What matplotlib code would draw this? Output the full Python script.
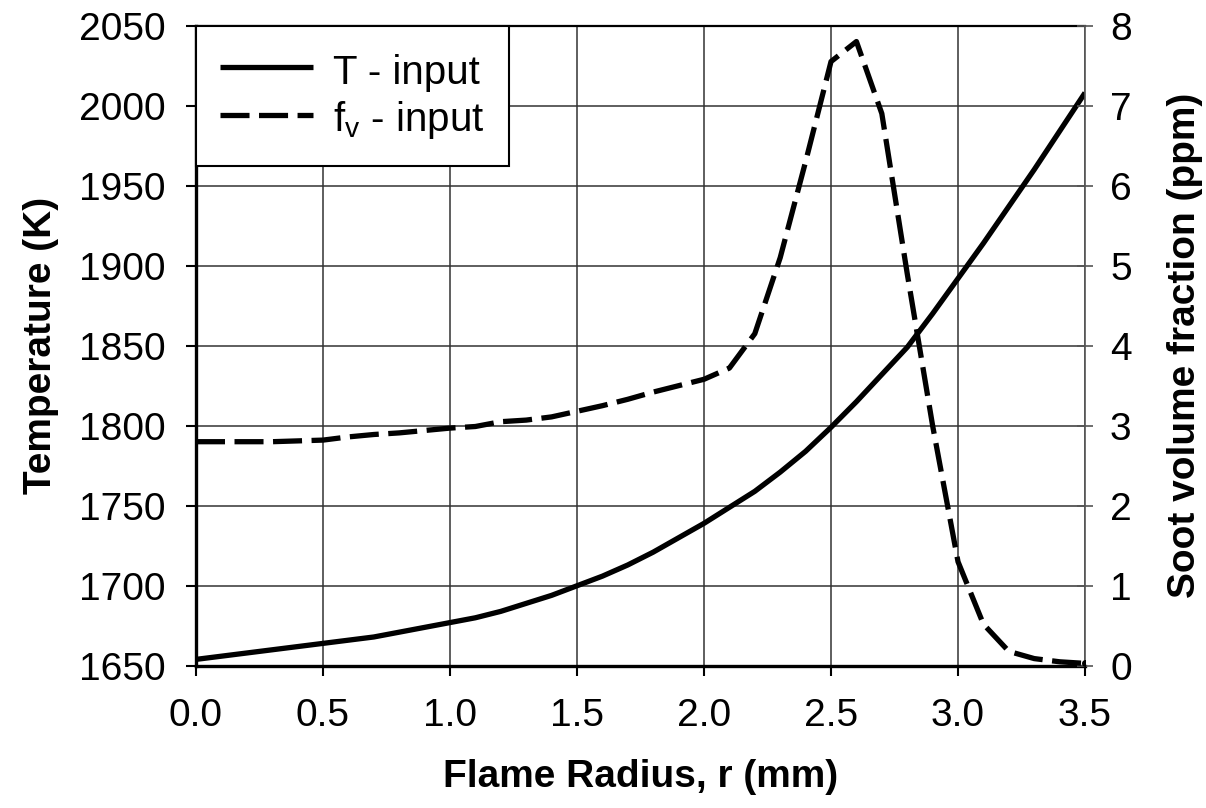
import matplotlib
matplotlib.use("Agg")
import matplotlib.pyplot as plt

plt.rcParams['font.family'] = ['Liberation Sans', 'DejaVu Sans']

r_mm = [0.0, 0.1, 0.2, 0.3, 0.4, 0.5, 0.6, 0.7, 0.8, 0.9, 1.0, 1.1, 1.2, 1.3, 1.4, 1.5,
        1.6, 1.7, 1.8, 1.9, 2.0, 2.1, 2.2, 2.3, 2.4, 2.5, 2.6, 2.7, 2.8, 2.9, 3.0, 3.1,
        3.2, 3.3, 3.4, 3.5]
temperature_K = [1654, 1656, 1658, 1660, 1662, 1664, 1666, 1668, 1671, 1674, 1677, 1680,
                 1684, 1689, 1694, 1700, 1706, 1713, 1721, 1730, 1739, 1749, 1759, 1771,
                 1784, 1799, 1815, 1832, 1849, 1870, 1892, 1914, 1937, 1960, 1984, 2008]
soot_ppm = [2.80, 2.80, 2.80, 2.80, 2.81, 2.82, 2.86, 2.89, 2.91, 2.94, 2.97, 2.99,
            3.05, 3.07, 3.11, 3.18, 3.25, 3.33, 3.42, 3.50, 3.58, 3.72, 4.15, 5.10,
            6.30, 7.55, 7.80, 6.90, 4.90, 3.00, 1.30, 0.52, 0.18, 0.09, 0.05, 0.03]

x_ticks = [0.0, 0.5, 1.0, 1.5, 2.0, 2.5, 3.0, 3.5]
x_tick_labels = ['0.0', '0.5', '1.0', '1.5', '2.0', '2.5', '3.0', '3.5']
t_ticks = [1650, 1700, 1750, 1800, 1850, 1900, 1950, 2000, 2050]
fv_ticks = [0, 1, 2, 3, 4, 5, 6, 7, 8]

FS = 28
fig = plt.figure(figsize=(12.06, 8.08), dpi=100)
ax = fig.add_axes([0.1625, 0.176, 0.8997 - 0.1625, 0.9684 - 0.176])
ax2 = ax.twinx()

grid_c = '#333333'
ax.set_xlim(0, 3.5)
ax.set_ylim(1650, 2050)
ax2.set_ylim(0, 8)
ax.set_xticks(x_ticks)
ax.set_xticklabels(x_tick_labels)
ax.set_yticks(t_ticks)
ax2.set_yticks(fv_ticks)
ax.grid(True, color=grid_c, linewidth=1.1)
ax.set_axisbelow(True)

ln1, = ax.plot(r_mm, temperature_K, color='black', linewidth=3.8, solid_capstyle='butt',
               label='T - input', zorder=3)
ln2, = ax2.plot(r_mm, soot_ppm, color='black', linewidth=3.8, linestyle=(0, (5.5, 1.8)),
                dash_capstyle='butt', label='f$_\\mathregular{v}$ - input', zorder=3)
ax2.plot(r_mm[-1:], soot_ppm[-1:], 'o', color='black', markersize=4, zorder=4)

for s in ['left', 'bottom']:
    ax.spines[s].set_linewidth(2.4)
    ax.spines[s].set_color('black')
ax.spines['top'].set_linewidth(1.6)
ax.spines['top'].set_color('black')
ax.spines['right'].set_visible(False)
for s in ['left', 'bottom', 'top']:
    ax2.spines[s].set_visible(False)
ax2.spines['right'].set_linewidth(1.2)
ax2.spines['right'].set_color('#555555')

ax.tick_params(axis='both', direction='out', length=7, width=1.5, labelsize=FS, pad=15)
ax.tick_params(axis='x', pad=16)
ax2.tick_params(axis='y', direction='inout', length=12, width=1.2, color='#555555',
                labelsize=FS, pad=12)

ax.set_xlabel('Flame Radius, r (mm)', fontsize=FS, fontweight='bold', labelpad=18)
ax.set_ylabel('Temperature (K)', fontsize=FS, fontweight='bold', labelpad=14)
ax2.set_ylabel('Soot volume fraction (ppm)', fontsize=FS, fontweight='bold', labelpad=25)

leg = ax.legend(handles=[ln1, ln2], loc='upper left', fontsize=29, frameon=True,
                fancybox=False, edgecolor='black', framealpha=1, borderaxespad=0,
                handlelength=2.3, handletextpad=0.5, labelspacing=0.15,
                handleheight=1.17, borderpad=0.6)
leg.get_frame().set_linewidth(1.5)
leg.set_zorder(10)

fig.savefig('out.png', dpi=100, facecolor='white')
